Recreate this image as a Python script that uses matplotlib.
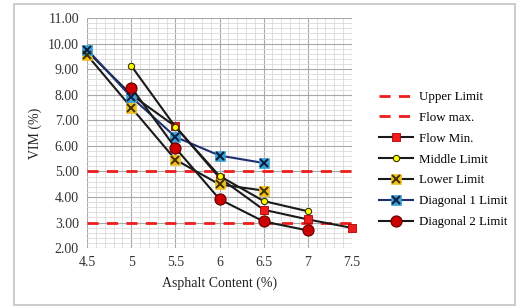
import matplotlib
matplotlib.use("Agg")
import matplotlib.pyplot as plt
from matplotlib.patches import Rectangle
from matplotlib.legend_handler import HandlerTuple
import numpy as np

plt.rcParams['font.family'] = ['Liberation Serif', 'DejaVu Serif']

x_flow_min = [4.5, 5, 5.5, 6, 6.5, 7, 7.5]
y_flow_min = [9.7, 8.0, 6.76, 4.75, 3.5, 3.12, 2.79]
x_middle = [5, 5.5, 6, 6.5, 7]
y_middle = [9.13, 6.74, 4.82, 3.84, 3.44]
x_lower = [4.5, 5, 5.5, 6, 6.5]
y_lower = [9.55, 7.5, 5.46, 4.49, 4.25]
x_diag1 = [4.5, 5, 5.5, 6, 6.5]
y_diag1 = [9.77, 7.91, 6.35, 5.62, 5.33]
x_diag2 = [5, 5.5, 6, 6.5, 7]
y_diag2 = [8.28, 5.92, 3.91, 3.04, 2.69]
upper_limit = 5.0
flow_max = 3.0
x_ticks = [4.5, 5, 5.5, 6, 6.5, 7, 7.5]
y_ticks = [2, 3, 4, 5, 6, 7, 8, 9, 10, 11]

fig = plt.figure(figsize=(5.16, 3.07), dpi=100)
ax = fig.add_axes([0.169, 0.192, 0.513, 0.749])

red = '#ee1c1c'
lk = '#1a1a1a'
lw = 1.5

h_up = ax.axhline(upper_limit, color=red, ls=(0, (4, 3)), lw=2, zorder=2)
h_fm = ax.axhline(flow_max, color=red, ls=(0, (4, 3)), lw=2, zorder=2)

kw = dict(clip_on=False)
h_fmin, = ax.plot(x_flow_min, y_flow_min, color=lk, lw=lw, marker='s', ms=5.5,
                  mfc=red, mec='#b00000', mew=0.6, zorder=3, **kw)
h_mid, = ax.plot(x_middle, y_middle, color=lk, lw=lw, marker='o', ms=4.5,
                 mfc='#ffff00', mec='#333300', mew=0.8, zorder=4, **kw)
h_low1, = ax.plot(x_lower, y_lower, color=lk, lw=lw, marker='s', ms=6.5,
                  mfc='#f0c020', mec='#f0c020', mew=0.5, zorder=3, **kw)
h_low2, = ax.plot(x_lower, y_lower, ls='none', marker='x', ms=6,
                  mec='#403000', mew=1.4, zorder=3.1, **kw)
h_d1a, = ax.plot(x_diag1, y_diag1, color='#1f2f6f', lw=lw, marker='s', ms=6.5,
                 mfc='#3aa0d0', mec='#3aa0d0', mew=0.5, zorder=3, **kw)
h_d1b, = ax.plot(x_diag1, y_diag1, ls='none', marker='x', ms=6,
                 mec='#0a1a40', mew=1.4, zorder=3.1, **kw)
h_d2, = ax.plot(x_diag2, y_diag2, color=lk, lw=lw, marker='o', ms=8,
                mfc='#cc0000', mec='#600000', mew=0.8, zorder=3, **kw)

ax.set_xlim(4.5, 7.5)
ax.set_ylim(2, 11)
ax.set_xticks(x_ticks)
ax.set_xticklabels(['%g' % v for v in x_ticks])
ax.set_yticks(y_ticks)
ax.set_yticklabels(['%.2f' % v for v in y_ticks])
ax.set_xticks(np.arange(4.5, 7.5001, 0.1), minor=True)
ax.set_yticks(np.arange(2, 11.001, 0.2), minor=True)
ax.grid(which='major', color='#a8a8a8', lw=0.8)
ax.grid(which='minor', color='#dadada', lw=0.6)
ax.set_axisbelow(True)
for s in ax.spines.values():
    s.set_visible(False)
ax.tick_params(which='both', length=0, labelsize=10, colors='#333333', pad=6)
ax.set_xlabel('Asphalt Content (%)', fontsize=10, color='#222222', labelpad=5)
ax.set_ylabel('VIM (%)', fontsize=10, color='#222222', labelpad=4)

handles = [h_up, h_fm, h_fmin, h_mid, (h_low1, h_low2), (h_d1a, h_d1b), h_d2]
labels = ['Upper Limit', 'Flow max.', 'Flow Min.', 'Middle Limit', 'Lower Limit',
          'Diagonal 1 Limit', 'Diagonal 2 Limit']
leg = fig.legend(handles, labels, loc='center left', bbox_to_anchor=(0.712, 0.48),
                 frameon=False, fontsize=9.3, labelspacing=0.68, handlelength=2.6,
                 handletextpad=0.5, handler_map={tuple: HandlerTuple(ndivide=1)})

fig.patches.append(Rectangle((14 / 516, 2 / 307), 501 / 516, 301 / 307,
                             transform=fig.transFigure, fill=False,
                             edgecolor='#c4c4c4', lw=1.2))

fig.savefig('out.png', dpi=100)
